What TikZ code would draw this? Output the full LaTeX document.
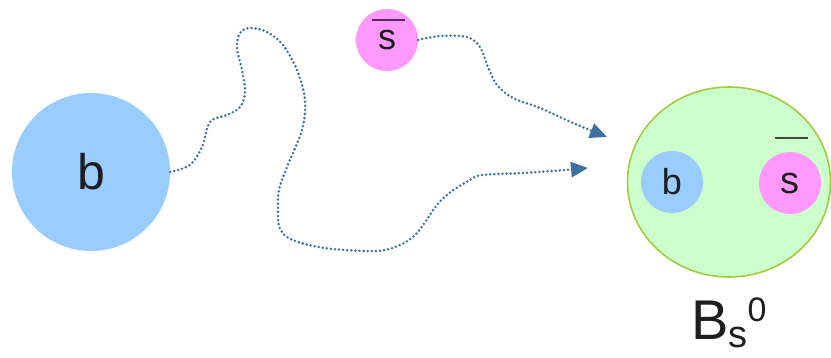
\documentclass[tikz,border=0pt]{standalone}
\usepackage{fontspec}
\setmainfont{Liberation Sans}
\usepackage{tikz}
\usetikzlibrary{shapes.geometric}
\usetikzlibrary{arrows.meta}
\usetikzlibrary{calc}

\definecolor{quarkb}{RGB}{153,204,255}
\definecolor{quarks}{RGB}{255,153,255}
\definecolor{mesonfill}{RGB}{204,255,204}
\definecolor{mesonedge}{RGB}{163,204,60}
\definecolor{walkblue}{RGB}{62,112,160}
\definecolor{inktext}{RGB}{30,30,30}

\begin{document}
\begin{tikzpicture}[x=1pt, y=-1pt,
  quark/.style={circle, inner sep=0pt, text=inktext},
  walk/.style={draw=walkblue, line width=2.8pt, line cap=round,
    dash pattern=on 0pt off 4.1pt,
    -{Triangle[length=17pt,width=15pt]}},
  antibar/.style={line width=2.8pt}]

 \useasboundingbox (0,0) rectangle (831,358);

 % Free b quark on the left
 \node [quark, fill=quarkb, minimum size=158pt,
   font=\fontsize{50}{50}\selectfont] (bquark) at (91,172) {b};

 % Free anti-s quark on top
 \node [quark, fill=quarks, minimum size=62pt,
   font=\fontsize{36}{36}\selectfont] (santi) at (387,40) {s};
 \draw [antibar, draw={rgb,255:red,90;green,40;blue,90}]
   ($(santi.center)+(-15,-20)$) -- ++(33,0);

 % The bound state, B_s^0
 \node [ellipse, fill=mesonfill, draw=mesonedge, line width=1.6pt,
   minimum width=203pt, minimum height=190pt] (bmeson) at (729,182) {};
 \node [quark, fill=quarkb, minimum size=62pt,
   font=\fontsize{36}{36}\selectfont] (binner) at (672,182) {b};
 \node [quark, fill=quarks, minimum size=62pt,
   font=\fontsize{38}{38}\selectfont] (sinner) at (790,183) {s};
 \draw [antibar, draw={rgb,255:red,70;green,70;blue,70}]
   ($(sinner.center)+(-15,-45)$) -- ++(33,0);

 % Name of the meson below it
 \node [anchor=base west, inner sep=0pt, text=inktext,
   font=\fontsize{56}{56}\selectfont] (mesonlabel) at (691,340)
   {B\raisebox{-8pt}{\fontsize{38}{38}\selectfont s}\raisebox{18pt}{\fontsize{34}{34}\selectfont 0}};

 % End points of the two walks
 \coordinate (tipb) at (588,168);
 \coordinate (tips) at (607,137);

 % Random walk of the b quark
 \draw [walk] plot [smooth, tension=0.55] coordinates {
   (bquark.east) (190,165) (202,147) (210,122) (227,115) (240,107)
   (245,92) (242,70) (237,48) (240,33) (250,28) (267,32) (283,45)
   (297,70) (305,100) (302,130) (287,167) (279,190) (278,210)
   (279,226) (287,237) (305,244) (333,249) (377,251) (400,245)
   (417,233) (437,205) (452,191) (470,180) (482,175) (523,173)
   (565,170) (tipb)};

 % Walk of the anti-s quark
 \draw [walk] plot [smooth, tension=0.55] coordinates {
   (santi.east) (440,36) (467,37) (480,47) (488,67) (497,85)
   (513,98) (540,108) (573,123) (tips)};

\end{tikzpicture}
\end{document}
